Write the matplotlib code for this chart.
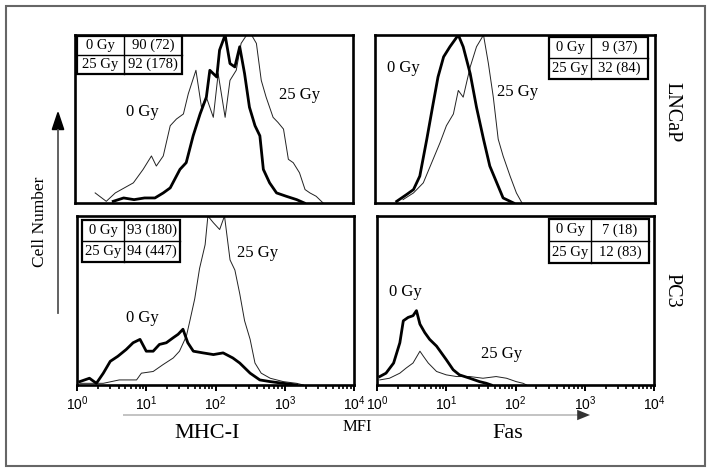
import numpy as np
import matplotlib
matplotlib.use("Agg")
import matplotlib.pyplot as plt
from matplotlib.patches import Rectangle, FancyArrow
from matplotlib.lines import Line2D
from matplotlib.ticker import LogLocator, NullFormatter

plt.rcParams['font.family'] = ['Liberation Serif', 'DejaVu Serif']
plt.rcParams['mathtext.fontset'] = 'custom'
plt.rcParams['mathtext.rm'] = 'Liberation Sans'
plt.rcParams['mathtext.it'] = 'Liberation Sans:italic'
plt.rcParams['mathtext.bf'] = 'Liberation Sans:bold'

W, H = 712, 473

# ---- data: x in log10(MFI), y as fraction of panel height ----
# LNCaP, MHC-I
lncap_mhc_0gy_x = [0.55, 0.7, 0.85, 1.0, 1.15, 1.27, 1.37, 1.51, 1.6, 1.7, 1.8, 1.89, 1.94, 2.04, 2.08, 2.16,
                   2.23, 2.3, 2.37, 2.44, 2.51, 2.59, 2.66, 2.71, 2.8, 2.9, 3.04, 3.19, 3.3]
lncap_mhc_0gy_y = [0.01, 0.03, 0.02, 0.03, 0.03, 0.06, 0.09, 0.2, 0.24, 0.4, 0.53, 0.63, 0.79, 0.75, 0.91, 1.0,
                   0.83, 0.81, 0.93, 0.77, 0.57, 0.46, 0.4, 0.2, 0.12, 0.06, 0.04, 0.02, 0.0]
lncap_mhc_25gy_x = [0.29, 0.45, 0.58, 0.84, 0.98, 1.1, 1.17, 1.27, 1.37, 1.46, 1.56, 1.63, 1.74, 1.82, 1.89, 1.99,
                    2.06, 2.16, 2.23, 2.32, 2.39, 2.47, 2.54, 2.61, 2.68, 2.75, 2.85, 2.92, 3.0, 3.07, 3.14,
                    3.23, 3.31, 3.38, 3.47, 3.57]
lncap_mhc_25gy_y = [0.06, 0.01, 0.06, 0.12, 0.2, 0.28, 0.22, 0.28, 0.46, 0.5, 0.53, 0.65, 0.79, 0.57, 0.63, 0.51,
                    0.77, 0.51, 0.73, 0.79, 0.95, 1.0, 1.0, 0.95, 0.73, 0.63, 0.51, 0.48, 0.44, 0.26, 0.24,
                    0.18, 0.08, 0.06, 0.04, 0.0]

# LNCaP, Fas
lncap_fas_0gy_x = [0.31, 0.45, 0.55, 0.64, 0.74, 0.83, 0.9, 0.98, 1.07, 1.19, 1.26, 1.36, 1.45, 1.55, 1.64,
                   1.74, 1.83, 1.98]
lncap_fas_0gy_y = [0.01, 0.05, 0.08, 0.16, 0.38, 0.59, 0.75, 0.87, 0.93, 1.0, 0.93, 0.77, 0.57, 0.38, 0.22,
                   0.12, 0.03, 0.0]
lncap_fas_25gy_x = [0.4, 0.55, 0.69, 0.83, 0.93, 1.02, 1.12, 1.19, 1.26, 1.36, 1.45, 1.55, 1.62, 1.69, 1.76,
                    1.83, 1.93, 2.02, 2.1]
lncap_fas_25gy_y = [0.02, 0.06, 0.12, 0.26, 0.36, 0.46, 0.53, 0.67, 0.63, 0.81, 0.93, 1.0, 0.83, 0.63, 0.38,
                    0.28, 0.16, 0.06, 0.0]

# PC3, MHC-I
pc3_mhc_0gy_x = [0.04, 0.18, 0.28, 0.38, 0.48, 0.59, 0.71, 0.81, 0.91, 1.0, 1.1, 1.19, 1.29, 1.39, 1.46, 1.53,
                 1.6, 1.68, 1.82, 1.97, 2.11, 2.25, 2.35, 2.5, 2.64, 2.79, 2.98, 3.17]
pc3_mhc_0gy_y = [0.02, 0.04, 0.01, 0.07, 0.14, 0.17, 0.21, 0.25, 0.27, 0.2, 0.2, 0.24, 0.25, 0.28, 0.3, 0.33,
                 0.25, 0.2, 0.19, 0.18, 0.19, 0.16, 0.13, 0.07, 0.03, 0.02, 0.01, 0.0]
pc3_mhc_25gy_x = [0.04, 0.38, 0.61, 0.86, 0.93, 1.1, 1.24, 1.39, 1.48, 1.58, 1.63, 1.7, 1.77, 1.85, 1.89, 1.97,
                  2.06, 2.13, 2.21, 2.28, 2.35, 2.42, 2.5, 2.57, 2.66, 2.79, 2.98, 3.17, 3.27]
pc3_mhc_25gy_y = [0.01, 0.01, 0.03, 0.03, 0.07, 0.08, 0.12, 0.16, 0.2, 0.29, 0.38, 0.51, 0.69, 0.83, 1.0, 0.96,
                  0.92, 1.0, 0.74, 0.68, 0.54, 0.38, 0.27, 0.13, 0.07, 0.04, 0.02, 0.01, 0.0]

# PC3, Fas
pc3_fas_0gy_x = [0.04, 0.13, 0.24, 0.33, 0.38, 0.45, 0.52, 0.57, 0.62, 0.69, 0.76, 0.86, 0.93, 1.0, 1.1, 1.19,
                 1.34, 1.48, 1.58, 1.65]
pc3_fas_0gy_y = [0.05, 0.07, 0.13, 0.25, 0.38, 0.4, 0.41, 0.44, 0.36, 0.31, 0.27, 0.23, 0.19, 0.15, 0.09, 0.06,
                 0.04, 0.02, 0.01, 0.0]
pc3_fas_25gy_x = [0.04, 0.18, 0.33, 0.42, 0.52, 0.62, 0.67, 0.74, 0.86, 1.0, 1.15, 1.34, 1.53, 1.72, 1.87, 2.01,
                  2.11, 2.16]
pc3_fas_25gy_y = [0.03, 0.04, 0.07, 0.1, 0.13, 0.2, 0.17, 0.13, 0.08, 0.06, 0.05, 0.05, 0.04, 0.05, 0.04, 0.02,
                  0.01, 0.0]

dose_labels = ['0 Gy', '25 Gy']
lncap_mhc_table = ['90 (72)', '92 (178)']
lncap_fas_table = ['9 (37)', '32 (84)']
pc3_mhc_table = ['93 (180)', '94 (447)']
pc3_fas_table = ['7 (18)', '12 (83)']

tick_vals = [1, 10, 100, 1000, 10000]
tick_labels = ['$10^{0}$', '$10^{1}$', '$10^{2}$', '$10^{3}$', '$10^{4}$']


def fx(x):
    return x / W


def fy(y):
    return 1 - y / H


fig = plt.figure(figsize=(W / 100, H / 100), dpi=100)

# outer frame
fig.add_artist(Rectangle((fx(6), fy(466)), fx(705) - fx(6), fy(6) - fy(466), transform=fig.transFigure,
                         fill=False, edgecolor='#666666', linewidth=1.5))


def make_axes(l, t, r, b):
    return fig.add_axes([fx(l), fy(b), fx(r) - fx(l), fy(t) - fy(b)])


def draw_table(l, t, r, b, div, values):
    fig.add_artist(Rectangle((fx(l), fy(b)), fx(r) - fx(l), fy(t) - fy(b), transform=fig.transFigure,
                             facecolor='white', edgecolor='black', linewidth=1.6, zorder=5))
    mid = (t + b) / 2
    fig.add_artist(Line2D([fx(l), fx(r)], [fy(mid), fy(mid)], transform=fig.transFigure,
                          color='black', linewidth=1.0, zorder=6))
    fig.add_artist(Line2D([fx(div), fx(div)], [fy(t), fy(b)], transform=fig.transFigure,
                          color='black', linewidth=1.0, zorder=6))
    for i, yy in enumerate([(t + mid) / 2, (mid + b) / 2]):
        fig.text(fx((l + div) / 2), fy(yy), dose_labels[i], ha='center', va='center', fontsize=10.5, zorder=7)
        fig.text(fx((div + r) / 2), fy(yy), values[i], ha='center', va='center', fontsize=10.5, zorder=7)


panels = [
    ((75, 35, 353, 203), lncap_mhc_0gy_x, lncap_mhc_0gy_y, lncap_mhc_25gy_x, lncap_mhc_25gy_y, False),
    ((375, 35, 655, 203), lncap_fas_0gy_x, lncap_fas_0gy_y, lncap_fas_25gy_x, lncap_fas_25gy_y, False),
    ((77, 216, 354, 385), pc3_mhc_0gy_x, pc3_mhc_0gy_y, pc3_mhc_25gy_x, pc3_mhc_25gy_y, True),
    ((377, 216, 654, 385), pc3_fas_0gy_x, pc3_fas_0gy_y, pc3_fas_25gy_x, pc3_fas_25gy_y, True),
]

for box, x0, y0, x25, y25, show_ticks in panels:
    ax = make_axes(*box)
    ax.plot(10 ** np.array(x25), y25, color='#222222', linewidth=0.7)
    ax.plot(10 ** np.array(x0), y0, color='black', linewidth=2.0)
    ax.set_xscale('log')
    ax.set_xlim(1, 10000)
    ax.set_ylim(0, 1.0)
    ax.set_yticks([])
    for sp in ax.spines.values():
        sp.set_linewidth(1.9)
    if show_ticks:
        ax.set_xticks(tick_vals)
        ax.set_xticklabels(tick_labels, fontsize=10)
        ax.xaxis.set_minor_locator(LogLocator(base=10, subs=np.arange(2, 10), numticks=20))
        ax.xaxis.set_minor_formatter(NullFormatter())
        ax.tick_params(axis='x', which='major', direction='out', length=4.5, width=1.4, pad=2)
        ax.tick_params(axis='x', which='minor', direction='out', length=3, width=1.2)
    else:
        ax.set_xticks([])
        ax.set_xticks([], minor=True)

# tables
draw_table(77, 36, 182, 74, 124, lncap_mhc_table)
draw_table(549, 37, 648, 79, 591, lncap_fas_table)
draw_table(82, 220, 180, 262, 124, pc3_mhc_table)
draw_table(549, 219, 649, 263, 591, pc3_fas_table)

# curve labels
for (x, y, s) in [(142, 112, '0 Gy'), (300, 95, '25 Gy'), (403, 68, '0 Gy'), (518, 92, '25 Gy'),
                  (142, 318, '0 Gy'), (258, 253, '25 Gy'), (405, 292, '0 Gy'), (502, 354, '25 Gy')]:
    fig.text(fx(x), fy(y), s, ha='center', va='center', fontsize=12)

# row labels
fig.text(fx(672), fy(112), 'LNCaP', rotation=-90, ha='center', va='center', fontsize=14.5)
fig.text(fx(672), fy(290), 'PC3', rotation=-90, ha='center', va='center', fontsize=14.5)

# axis arrows and labels
fig.add_artist(FancyArrow(fx(123), fy(415), fx(590) - fx(123) - 0.018, 0, width=0.0012,
                          head_width=0.022, head_length=0.018, length_includes_head=False,
                          transform=fig.transFigure, color='#333333', ec='none'))
fig.add_artist(Line2D([fx(58), fx(58)], [fy(313), fy(130)], transform=fig.transFigure,
                      color='#555555', linewidth=1.3))
fig.add_artist(FancyArrow(fx(58), fy(130), 0, 0.001, width=0, head_width=0.016, head_length=0.036,
                          transform=fig.transFigure, color='black'))

fig.text(fx(207), fy(433), 'MHC-I', ha='center', va='center', fontsize=16)
fig.text(fx(357), fy(427), 'MFI', ha='center', va='center', fontsize=12)
fig.text(fx(508), fy(433), 'Fas', ha='center', va='center', fontsize=16)
fig.text(fx(40), fy(222), 'Cell Number', rotation=90, ha='center', va='center', fontsize=12.5)

fig.savefig('out.png', dpi=100)
